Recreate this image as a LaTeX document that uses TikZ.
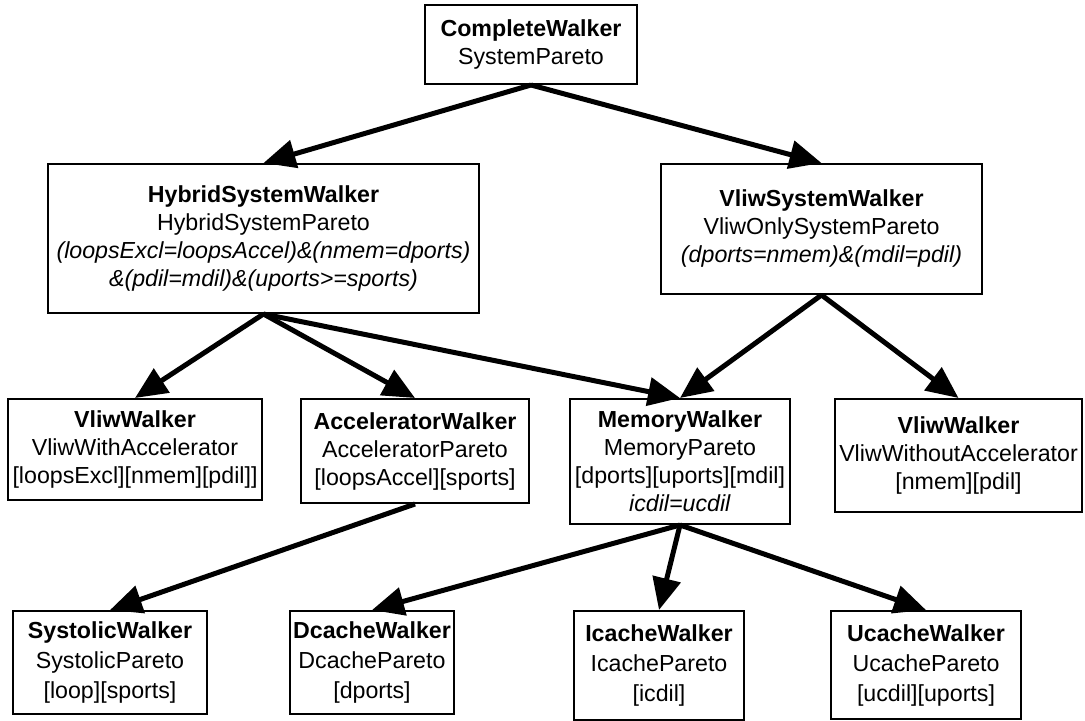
\documentclass[tikz,border=0pt]{standalone}
\usepackage{fontspec}
\setmainfont{Liberation Sans}
\usetikzlibrary{arrows.meta}
\tikzset{
  walker/.style = {draw, line width=1pt, rectangle, align=center,
                   inner sep=0pt, font=\fontsize{11.6}{14}\selectfont},
  leaf/.style   = {walker, font=\fontsize{11.6}{15}\selectfont},
  link/.style   = {-{Triangle[length=16pt,width=14pt]}, line width=2.5pt},
}

\begin{document}
\begin{tikzpicture}[x=0.5pt,y=-0.5pt]
\useasboundingbox (0,0) rectangle (1085,721);
% top level
\node[walker,minimum width=106pt,minimum height=39.5pt] (cw) at (531,44.5)
  {\textbf{CompleteWalker}\\SystemPareto};
% system walkers
\node[walker,minimum width=215.5pt,minimum height=74.5pt] (hsw) at (263.5,238.5)
  {\textbf{HybridSystemWalker}\\HybridSystemPareto\\
   \textit{(loopsExcl=loopsAccel)\&(nmem=dports)}\\
   \textit{\&(pdil=mdil)\&(uports>=sports)}};
\node[walker,minimum width=160.5pt,minimum height=65pt] (vsw) at (821.5,229)
  {\textbf{VliwSystemWalker}\\VliwOnlySystemPareto\\
   \textit{(dports=nmem)\&(mdil=pdil)}};
% middle row
\node[walker,minimum width=127pt,minimum height=50.5pt] (vwa) at (135,449.5)
  {\textbf{VliwWalker}\\VliwWithAccelerator\\{[loopsExcl][nmem][pdil]]}};
\node[walker,minimum width=114pt,minimum height=52pt] (acc) at (415,451)
  {\textbf{AcceleratorWalker}\\AcceleratorPareto\\{[loopsAccel][sports]}};
\node[walker,minimum width=110pt,minimum height=62.5pt] (mem) at (680,461.5)
  {\textbf{MemoryWalker}\\MemoryPareto\\{[dports][uports][mdil]}\\\textit{icdil=ucdil}};
\node[walker,minimum width=123.5pt,minimum height=56.5pt] (vwo) at (958.5,455.5)
  {\textbf{VliwWalker}\\VliwWithoutAccelerator\\{[nmem][pdil]}};
% bottom row
\node[leaf,minimum width=97pt,minimum height=51.5pt] (sys) at (110,662.5)
  {\textbf{SystolicWalker}\\SystolicPareto\\{[loop][sports]}};
\node[leaf,minimum width=82pt,minimum height=51.5pt] (dc) at (372,662.5)
  {\textbf{DcacheWalker}\\DcachePareto\\{[dports]}};
\node[leaf,minimum width=85pt,minimum height=54.5pt] (ic) at (659,665.5)
  {\textbf{IcacheWalker}\\IcachePareto\\{[icdil]}};
\node[leaf,minimum width=95pt,minimum height=54pt] (uc) at (926,665)
  {\textbf{UcacheWalker}\\UcachePareto\\{[ucdil][uports]}};
% connectors
\draw[link] (cw.south) -- (hsw.north);
\draw[link] (cw.south) -- (vsw.north);
\draw[link] (hsw.south) -- (vwa.north);
\draw[link] (hsw.south) -- (acc.north);
\draw[link] (hsw.south) -- (mem.north);
\draw[link] (vsw.south) -- (mem.north);
\draw[link] (vsw.south) -- (vwo.north);
\draw[link] (acc.south) -- (sys.north);
\draw[link] (mem.south) -- (dc.north);
\draw[link] (mem.south) -- (ic.north);
\draw[link] (mem.south) -- (uc.north);
\end{tikzpicture}
\end{document}
